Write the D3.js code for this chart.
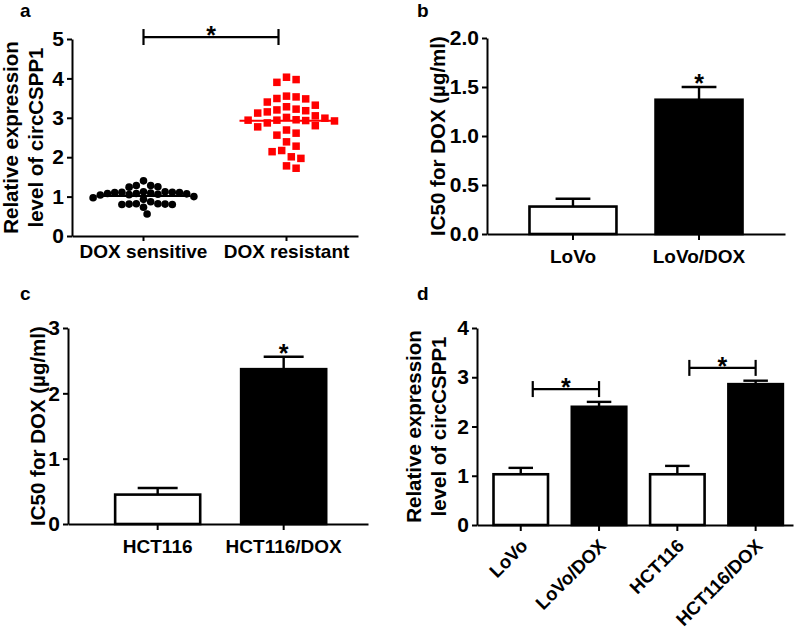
<!DOCTYPE html>
<html><head><meta charset="utf-8">
<script src="https://cdn.jsdelivr.net/npm/d3@7"></script>
<style>
html,body{margin:0;padding:0;background:#fff;}
svg{display:block;}
</style></head>
<body>
<svg id="chart" width="796" height="629"></svg>
<script>
// ---------- DATA ----------
// Panel a: scatter
const catsA = ["DOX sensitive", "DOX resistant"];
const sensitiveValues = [1.40, 1.28, 1.24, 1.25, 1.28,
  1.12, 1.11, 1.10, 1.10, 1.09, 1.08, 1.08, 1.07, 1.06, 1.05, 1.04, 1.12, 1.11,
  1.00, 0.97, 0.93,
  0.81, 0.82, 0.80, 0.81, 0.82, 0.80,
  0.87, 0.73, 0.56];
const resistantValues = [4.03, 3.90, 3.97, 3.48, 3.55, 3.53, 3.49, 3.32, 3.40, 3.28,
  3.22, 3.20, 3.15, 3.18, 3.12, 3.05, 2.99, 3.01, 2.94, 2.93, 2.95, 2.92, 2.94,
  2.87, 2.80, 2.77, 2.69, 2.56, 2.61, 2.39, 2.28, 2.17, 2.14, 2.01, 1.97, 1.72, 1.78];
const ticksA = [0, 1, 2, 3, 4, 5];

// Panel b
const catsB = ["LoVo", "LoVo/DOX"];
const meansB = [0.28, 1.37];
const errB = [0.08, 0.13];
const ticksB = [0, 0.5, 1.0, 1.5, 2.0];

// Panel c
const catsC = ["HCT116", "HCT116/DOX"];
const meansC = [0.45, 2.37];
const errC = [0.10, 0.19];
const ticksC = [0, 1, 2, 3];

// Panel d
const catsD = ["LoVo", "LoVo/DOX", "HCT116", "HCT116/DOX"];
const meansD = [1.03, 2.40, 1.03, 2.86];
const errD = [0.13, 0.10, 0.17, 0.07];
const ticksD = [0, 1, 2, 3, 4];
const filledD = [false, true, false, true];

// ---------- DRAW ----------
const FONT = "'Liberation Sans', Arial, Helvetica, sans-serif";
const svg = d3.select("#chart");
svg.append("rect").attr("width", 796).attr("height", 629).attr("fill", "#fff");

function styleAxis(g, fs) {
  g.select(".domain").attr("stroke", "#000").attr("stroke-width", 2);
  g.selectAll(".tick line").attr("stroke", "#000").attr("stroke-width", 2);
  g.selectAll(".tick text").attr("fill", "#000")
    .style("font-family", FONT).style("font-weight", "bold").style("font-size", fs + "px");
}

function panelLabel(txt, x, y) {
  svg.append("text").attr("x", x).attr("y", y).text(txt)
    .style("font-family", FONT).style("font-weight", "bold").style("font-size", "19px");
}

function yTitle(lines, x, yc) {
  const t = svg.append("text")
    .attr("transform", `translate(${x},${yc}) rotate(-90)`)
    .attr("text-anchor", "middle")
    .style("font-family", FONT).style("font-weight", "bold").style("font-size", "20.5px");
  lines.forEach((l, i) => {
    t.append("tspan").attr("x", 0).attr("y", i * 25).text(l);
  });
}

function star(x, lineY) {
  svg.append("text").attr("x", x).attr("y", lineY + 7).attr("text-anchor", "middle")
    .text("*").style("font-family", FONT).style("font-weight", "bold").style("font-size", "25px");
}

function bracket(x1, x2, y) {
  const g = svg.append("g").attr("stroke", "#000").attr("stroke-width", 2.2).attr("fill", "none");
  g.append("line").attr("x1", x1).attr("x2", x2).attr("y1", y).attr("y2", y);
  g.append("line").attr("x1", x1).attr("x2", x1).attr("y1", y - 8).attr("y2", y + 8);
  g.append("line").attr("x1", x2).attr("x2", x2).attr("y1", y - 8).attr("y2", y + 8);
  star((x1 + x2) / 2, y);
}

// beeswarm layout computed from values
function swarm(vals, y, cx, d) {
  const s = d / 2;
  const pts = vals.map(v => ({ v, y: y(v) })).sort((a, b) => d3.descending(a.v, b.v));
  const placed = [];
  pts.forEach(p => {
    for (let k = 0; k < 200; k++) {
      const m = Math.ceil(k / 2) * (k % 2 === 1 ? 1 : -1);
      const x = cx + m * s;
      const ok = placed.every(q => (q.x - x) ** 2 + (q.y - p.y) ** 2 >= d * d - 0.01);
      if (ok) { p.x = x; placed.push(p); break; }
    }
  });
  return placed;
}

// ===== Panel a =====
(function () {
  const x = d3.scaleBand().domain(catsA).range([72, 358]).padding(0);
  const y = d3.scaleLinear().domain([0, 5]).range([236, 39]);
  const gy = svg.append("g").attr("transform", "translate(72,0)")
    .call(d3.axisLeft(y).tickValues(ticksA).tickFormat(d3.format("d")).tickSize(5).tickSizeOuter(0).tickPadding(3));
  styleAxis(gy, 21);
  const gx = svg.append("g").attr("transform", "translate(0,236)")
    .call(d3.axisBottom(x).tickSize(5).tickSizeOuter(0).tickPadding(4));
  styleAxis(gx, 19);

  const c0 = x(catsA[0]) + x.bandwidth() / 2;
  const c1 = x(catsA[1]) + x.bandwidth() / 2;
  const ptsS = swarm(sensitiveValues, y, c0, 7.2);
  svg.append("g").selectAll("circle").data(ptsS).join("circle")
    .attr("cx", d => d.x).attr("cy", d => d.y).attr("r", 3.8).attr("fill", "#000");
  const ptsR = swarm(resistantValues, y, c1, 9.6);
  svg.append("g").selectAll("rect").data(ptsR).join("rect")
    .attr("x", d => d.x - 3.75).attr("y", d => d.y - 3.75).attr("width", 7.5).attr("height", 7.5)
    .attr("fill", "#ff0000");
  const mS = d3.mean(sensitiveValues), mR = d3.mean(resistantValues);
  svg.append("line").attr("x1", c0 - 47).attr("x2", c0 + 47).attr("y1", y(mS)).attr("y2", y(mS))
    .attr("stroke", "#000").attr("stroke-width", 2);
  svg.append("line").attr("x1", c1 - 47).attr("x2", c1 + 47).attr("y1", y(mR)).attr("y2", y(mR))
    .attr("stroke", "#ff0000").attr("stroke-width", 2);

  bracket(c0, c1 - 8, y(5.05));
  yTitle(["Relative expression", "level of circCSPP1"], 18, (y(0) + y(5)) / 2);
  panelLabel("a", 20, 17);
})();

// generic bar panel
function barPanel(cats, means, errs, filled, ticks, fmt, opts) {
  const x = d3.scaleBand().domain(cats).range([opts.x0, opts.x1])
    .paddingInner(opts.pi).paddingOuter(opts.po).align(opts.align);
  const y = d3.scaleLinear().domain([0, ticks[ticks.length - 1]]).range([opts.y0, opts.y1]);
  const data = cats.map((c, i) => ({ c, m: means[i], e: errs[i], f: filled[i] }));
  const bw = x.bandwidth();
  // bars
  svg.append("g").selectAll("rect").data(data).join("rect")
    .attr("x", d => x(d.c)).attr("y", d => y(d.m))
    .attr("width", bw).attr("height", d => y(0) - y(d.m))
    .attr("fill", d => d.f ? "#000" : "#fff").attr("stroke", "#000").attr("stroke-width", 2.6);
  // error bars
  const eg = svg.append("g").attr("stroke", "#000").attr("stroke-width", 2.4);
  eg.selectAll(".v").data(data).join("line")
    .attr("x1", d => x(d.c) + bw / 2).attr("x2", d => x(d.c) + bw / 2)
    .attr("y1", d => y(d.m)).attr("y2", d => y(d.m + d.e));
  eg.selectAll(".h").data(data).join("line")
    .attr("x1", d => x(d.c) + bw / 2 - bw * opts.cap / 2).attr("x2", d => x(d.c) + bw / 2 + bw * opts.cap / 2)
    .attr("y1", d => y(d.m + d.e)).attr("y2", d => y(d.m + d.e));
  // axes
  const gy = svg.append("g").attr("transform", `translate(${opts.x0},0)`)
    .call(d3.axisLeft(y).tickValues(ticks).tickFormat(fmt).tickSize(5).tickSizeOuter(0).tickPadding(3));
  styleAxis(gy, 21);
  const gx = svg.append("g").attr("transform", `translate(0,${opts.y0})`)
    .call(d3.axisBottom(x).tickSize(6).tickSizeOuter(0).tickPadding(opts.xpad));
  styleAxis(gx, 19);
  return { x, y, gx, data, bw };
}

// ===== Panel b =====
(function () {
  const p = barPanel(catsB, meansB, errB, [false, true], ticksB, d3.format(".1f"),
    { x0: 487, x1: 785, y0: 234, y1: 38, pi: 0.31, po: 0.337, align: 0.5, cap: 0.4, xpad: 10 });
  const d = p.data[1];
  star(p.x(d.c) + p.bw / 2, p.y(d.m + d.e) - 2);
  yTitle(["IC50 for DOX (µg/ml)"], 445, (p.y(0) + p.y(2)) / 2);
  panelLabel("b", 417, 17);
})();

// ===== Panel c =====
(function () {
  const p = barPanel(catsC, meansC, errC, [false, true], ticksC, d3.format("d"),
    { x0: 68, x1: 368, y0: 524, y1: 328, pi: 0.325, po: 0.353, align: 0.53, cap: 0.47, xpad: 10 });
  const d = p.data[1];
  star(p.x(d.c) + p.bw / 2, p.y(d.m + d.e) - 2);
  yTitle(["IC50 for DOX (µg/ml)"], 45, (p.y(0) + p.y(3)) / 2);
  panelLabel("c", 20, 300);
})();

// ===== Panel d =====
(function () {
  const p = barPanel(catsD, meansD, errD, filledD, ticksD, d3.format("d"),
    { x0: 477, x1: 793, y0: 525, y1: 328, pi: 0.304, po: 0.17, align: 0.62, cap: 0.45, xpad: 4 });
  p.gx.selectAll(".tick text")
    .attr("x", 0).attr("y", 0).attr("dy", 0)
    .attr("transform", "translate(8,22) rotate(-45)")
    .style("text-anchor", "end")
    .style("font-size", "18.5px");
  const cx = c => p.x(c) + p.bw / 2;
  bracket(cx(catsD[0]) + 12, cx(catsD[1]), p.y(2.76));
  bracket(cx(catsD[2]) + 12, cx(catsD[3]), p.y(3.19));
  yTitle(["Relative expression", "level of circCSPP1"], 421, (p.y(0) + p.y(4)) / 2);
  panelLabel("d", 417, 300);
})();
</script>
</body></html>
